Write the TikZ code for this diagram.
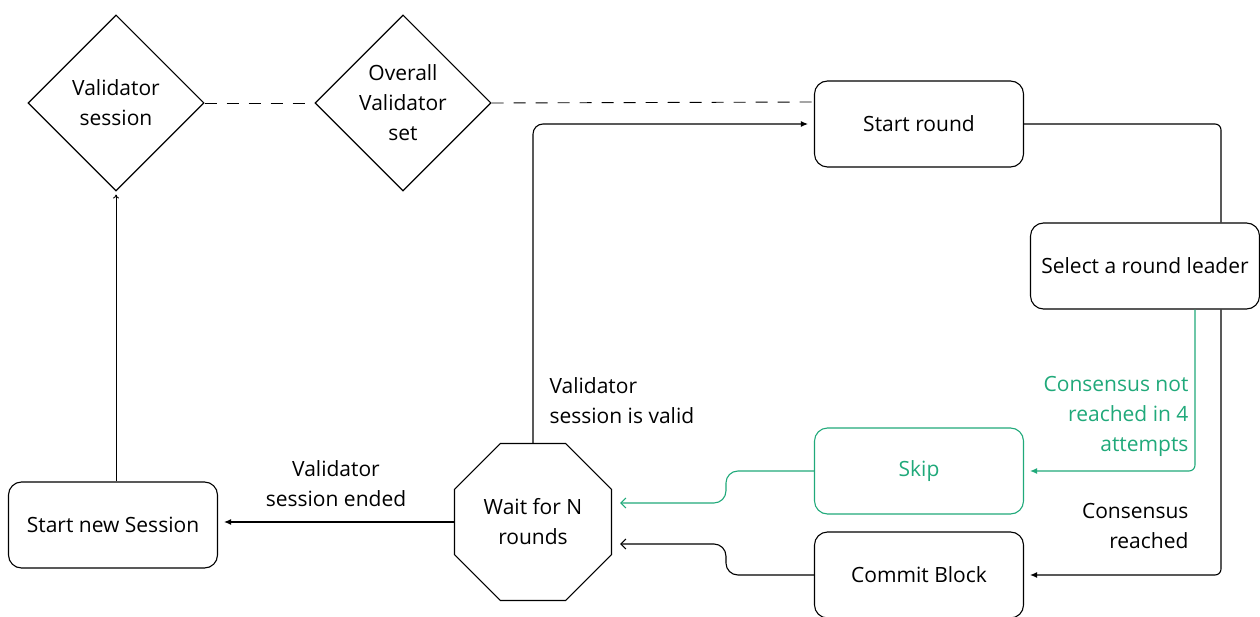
\documentclass[tikz,border=0pt]{standalone}
\usepackage{fontspec}
\setmainfont{Open Sans}
\usetikzlibrary{shapes.geometric,arrows.meta}
\definecolor{skipgreen}{RGB}{32,169,122}
\tikzset{
    RR/.style ={rectangle,rounded corners=13pt,minimum width = 209pt, minimum height = 86pt, draw, line width=1.1pt},
    DD/.style ={diamond,minimum width = 176pt, minimum height = 176pt, inner sep=0pt, draw, align=center},
    OC/.style ={regular polygon,regular polygon sides=8,minimum size=170pt, inner sep=0pt, draw, align=center, line width=1.1pt},
    LB/.style ={align=center, inner sep=0pt},
    FA/.style ={-{Latex[length=7pt,width=6pt]}, shorten >=6pt},
    OA/.style ={-{Straight Barb[length=5pt,width=10pt]}, shorten >=8pt}}

\begin{document}
\begin{tikzpicture}[x=1pt,y=-1pt,line width=1.1pt,font=\fontsize{21}{30}\selectfont]
        \useasboundingbox (0,0) rectangle (1260,617);
        \node[DD] (1) at(116,103){Validator\\session};
        \node[DD] (2) at(403,103){Overall\\Validator\\set};
        \node[RR] (3) at(919,124){Start round};
        \node[RR,minimum width=229pt] (4) at(1145,266){Select a round leader};
        \node[RR,draw=skipgreen,text=skipgreen] (5) at(919,471){Skip};
        \node[RR] (6) at(919,575){Commit Block};
        \node[OC,text depth=2pt] (7) at(533,522){Wait for N\\rounds};
        \node[RR] (8) at(113,525){Start new Session};
        \node[LB,anchor=west,align=left] (9) at(549,401){Validator\\session is valid};
        \node[LB] (10) at(336,484){Validator\\session ended};
        \node[LB,anchor=east,align=right,text=skipgreen] (11) at(1189,416){Consensus not\\reached in 4\\attempts};
        \node[LB,anchor=east,align=right] (12) at(1189,526){Consensus\\reached};
        \draw[dashed,dash pattern=on 12pt off 10pt,line width=0.9pt] (1.east) -- (2.west);
        \draw[dashed,dash pattern=on 12pt off 10pt,line width=0.9pt] (2.east) -- ([yshift=22pt]3.west);
        \draw[rounded corners=6pt] (3.east) -| ([xshift=76pt]4.north);
        \draw[FA,rounded corners=6pt] ([xshift=76pt]4.south) |- (6.east);
        \draw[FA,rounded corners=6pt,skipgreen] ([xshift=50pt]4.south) |- (5.east);
        \draw[OA,rounded corners=12pt,skipgreen] (5.west) -- ++(-88,0) |- ([yshift=19pt]7.east);
        \draw[OA,rounded corners=12pt] (6.west) -- ++(-88,0) |- ([yshift=-22pt]7.east);
        \draw[FA,rounded corners=10pt] (7.north) |- (3.west);
        \draw[FA] (7.west) -- (7.west -| 8.east);
        \draw[-{To[length=4pt,width=6pt]},shorten >=3pt,line width=0.9pt] (8.north -| 1.south) -- (1.south);
    \end{tikzpicture}
\end{document}
